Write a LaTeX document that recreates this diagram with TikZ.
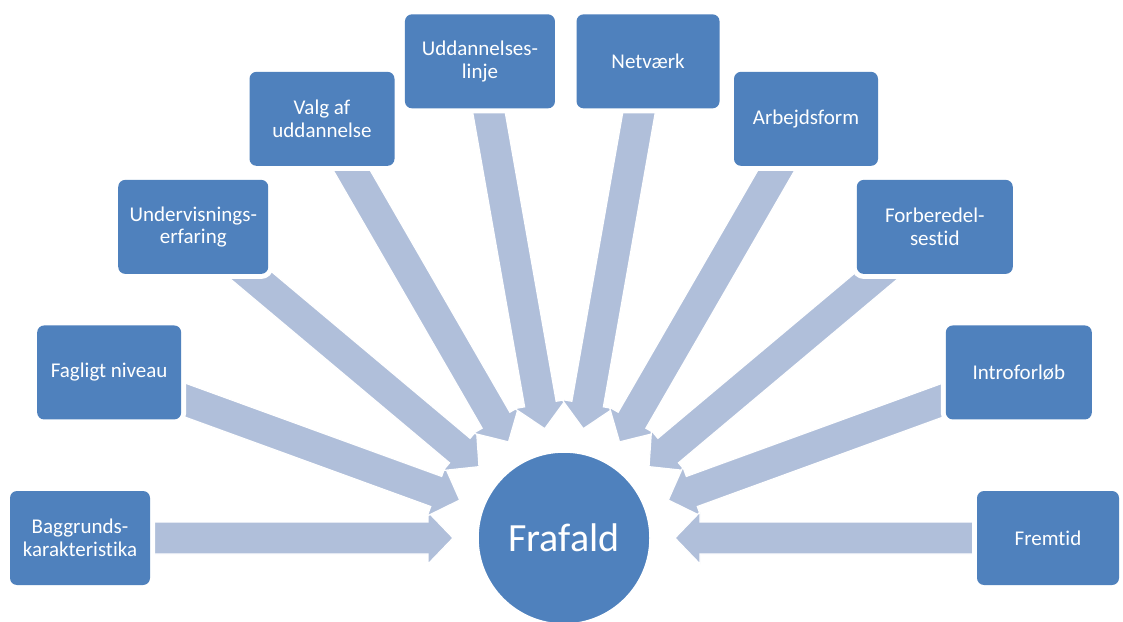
\documentclass[tikz,border=0pt]{standalone}
\usepackage{fontspec}
\setmainfont{Carlito}[Ligatures=NoCommon]
\usetikzlibrary{calc}
\definecolor{boxblue}{RGB}{79,129,189}
\definecolor{arrowblue}{RGB}{176,191,218}
\pgfdeclarelayer{background}
\pgfsetlayers{background,main}
\newcommand\blockarr[2]{%
  \path ($(#2)!25pt!(#1.center)$) coordinate (hb);
  \filldraw[blockarrow] (#2) -- ($(hb)!26pt!90:(#2)$) -- ($(hb)!16pt!90:(#2)$)
    -- ($(#1.center)!16pt!90:(#2)$) -- ($(#1.center)!16pt!-90:(#2)$)
    -- ($(hb)!16pt!-90:(#2)$) -- ($(hb)!26pt!-90:(#2)$) -- cycle;
}
\tikzset{
  box/.style={rectangle, rounded corners=7pt, fill=boxblue, text=white,
    minimum height=94pt, inner sep=0pt, align=center,
    font=\fontsize{21}{22.5}\selectfont,
    preaction={draw=white, line width=10pt}},
  blockarrow/.style={fill=arrowblue, draw=white, line width=1.2pt, line join=miter},
  hub/.style={circle, fill=boxblue, draw=white, line width=1.5pt, minimum size=172pt,
    inner sep=0pt, text=white, font=\fontsize{40}{48}\selectfont}
}
\begin{document}
\begin{tikzpicture}[x=1pt,y=1pt]
\useasboundingbox (0,0) rectangle (1123,621);
\coordinate (C) at (564,83);
\node[hub] (F) at (C) {Frafald};
\node[box, minimum width=140pt] (b1) at ($(C)+(180:484pt)$) {Baggrunds-\\karakteristika};
\node[box, minimum width=144pt] (b2) at ($(C)+(160:484pt)$) {Fagligt niveau};
\node[box, minimum width=150pt] (b3) at ($(C)+(140:484pt)$) {Undervisnings-\\erfaring};
\node[box, minimum width=145pt] (b4) at ($(C)+(120:484pt)$) {Valg af\\uddannelse};
\node[box, minimum width=150pt] (b5) at ($(C)+(100:484pt)$) {Uddannelses-\\linje};
\node[box, minimum width=143pt] (b6) at ($(C)+(80:484pt)$) {Netværk};
\node[box, minimum width=144pt] (b7) at ($(C)+(60:484pt)$) {Arbejdsform};
\node[box, minimum width=156pt] (b8) at ($(C)+(40:484pt)$) {Forberedel-\\sestid};
\node[box, minimum width=146pt] (b9) at ($(C)+(20:484pt)$) {Introforløb};
\node[box, minimum width=142pt] (b10) at ($(C)+(0:484pt)$) {Fremtid};
\foreach \i/\a in {1/180,2/160,3/140,4/120,5/100,6/80,7/60,8/40,9/20,10/0}{
  \coordinate (t\i) at ($(C)+(\a:111pt)$);
}
\begin{pgfonlayer}{background}
\foreach \i in {1,...,10}{
  \blockarr{b\i}{t\i}
}
\end{pgfonlayer}
\end{tikzpicture}
\end{document}
